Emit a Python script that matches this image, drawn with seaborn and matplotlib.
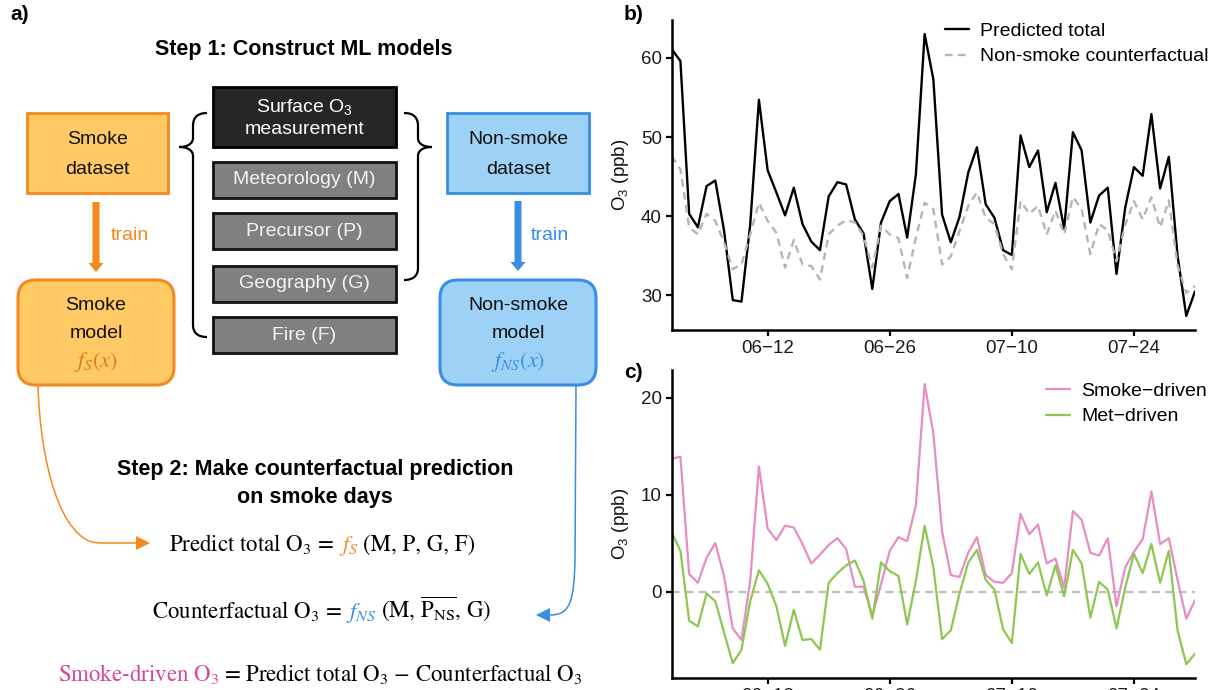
import numpy as np
import pandas as pd
import matplotlib
matplotlib.use("Agg")
import matplotlib.pyplot as plt
from matplotlib.patches import Rectangle, FancyBboxPatch, FancyArrow, Polygon, PathPatch
from matplotlib.path import Path
import seaborn as sns

# ---------------- data ----------------
start_date = "2023-06-01"
end_date = "2023-07-31"

predicted_total = [61.1, 59.6, 40.3, 38.6, 43.8, 44.5, 38.2, 29.4, 29.2, 38.9,
                   54.7, 45.8, 43.0, 40.1, 43.6, 39.0, 36.8, 35.7, 42.5, 44.3,
                   44.0, 39.6, 37.8, 30.8, 39.2, 41.9, 42.8, 37.3, 45.3, 63.0,
                   57.3, 40.2, 36.7, 39.9, 45.5, 48.7, 41.5, 39.8, 35.7, 35.1,
                   50.2, 46.2, 48.3, 40.5, 44.2, 38.4, 50.6, 48.3, 39.2, 42.6,
                   43.6, 32.7, 41.1, 46.2, 45.1, 52.9, 43.5, 47.5, 35.0, 27.4,
                   30.5]

counterfactual = [47.6, 45.9, 38.6, 37.7, 40.3, 39.4, 36.7, 33.3, 33.9, 37.7,
                  41.7, 39.4, 37.9, 33.5, 37.0, 33.9, 33.7, 32.0, 37.7, 38.8,
                  39.5, 39.2, 37.5, 33.5, 38.8, 37.7, 37.2, 32.2, 37.3, 41.7,
                  40.9, 33.9, 34.9, 38.1, 41.3, 43.0, 39.8, 39.0, 35.2, 33.3,
                  41.9, 40.3, 41.3, 37.7, 40.7, 37.7, 42.4, 40.9, 35.2, 39.0,
                  38.2, 34.3, 38.9, 41.9, 39.6, 42.4, 38.6, 42.0, 33.8, 30.3,
                  31.2]

smoke_driven = [13.7, 13.9, 1.8, 0.9, 3.5, 5.0, 1.6, -3.8, -5.0, 1.1,
                12.9, 6.5, 5.3, 6.8, 6.6, 4.9, 2.9, 3.8, 4.8, 5.5,
                4.4, 0.5, 0.5, -2.5, 0.75, 4.2, 5.6, 5.2, 8.9, 21.4,
                16.3, 6.2, 1.7, 1.5, 4.0, 5.6, 1.7, 1.0, 0.9, 1.9,
                8.0, 5.9, 6.9, 2.9, 3.4, 0.4, 8.3, 7.4, 4.0, 3.7,
                5.5, -1.5, 2.5, 4.1, 5.4, 10.3, 4.9, 5.5, 1.2, -2.8,
                -0.9]

met_driven = [6.1, 4.2, -3.0, -3.6, -0.2, -1.0, -4.2, -7.4, -6.0, -1.0,
              2.2, 0.8, -1.5, -5.6, -1.9, -5.0, -4.9, -6.0, 0.9, 1.9,
              2.7, 3.2, 1.1, -2.8, 3.0, 2.1, 1.6, -3.4, 1.1, 6.8,
              2.5, -4.9, -4.0, -0.2, 3.0, 4.3, 1.2, 0.2, -3.9, -5.3,
              3.9, 1.8, 3.0, -0.4, 2.7, -0.5, 4.3, 2.9, -2.7, 1.0,
              0.2, -3.8, 0.4, 3.9, 1.9, 4.9, 0.9, 4.2, -4.0, -7.5,
              -6.4]

tick_dates = ["2023-06-12", "2023-06-26", "2023-07-10", "2023-07-24"]
tick_labels = ["06\u221212", "06\u221226", "07\u221210", "07\u221224"]
yticks_b = [30, 40, 50, 60]
yticks_c = [0, 10, 20]

# ---------------- style ----------------
sns.set_theme(style="ticks")
plt.rcParams["font.family"] = ["Liberation Sans", "DejaVu Sans"]
plt.rcParams["mathtext.fontset"] = "custom"
plt.rcParams["mathtext.rm"] = "Liberation Sans"
plt.rcParams["mathtext.it"] = "Liberation Sans:italic"
plt.rcParams["mathtext.bf"] = "Liberation Sans:bold"
plt.rcParams["text.color"] = "black"
plt.rcParams["axes.labelcolor"] = "black"

W, H = 1217, 690
fig = plt.figure(figsize=(W / 100, H / 100), dpi=100)


def px_axes(left, top, right, bottom):
    return fig.add_axes([left / W, 1 - bottom / H, (right - left) / W, (bottom - top) / H])


# schematic canvas in pixel units (y downwards)
cv = fig.add_axes([0, 0, 1, 1])
cv.set_xlim(0, W)
cv.set_ylim(H, 0)
cv.axis("off")

ORANGE = "#F5891F"
ORANGE_FILL = "#FFC966"
BLUE = "#3A8DE2"
BLUE_FILL = "#9DD1F5"
PINK_TXT = "#D6479B"

# ---------- panel a ----------
cv.text(10, 15, "a)", fontsize=15, fontweight="bold", ha="left", va="center")
cv.text(304, 50, "Step 1: Construct ML models", fontsize=15.5, fontweight="bold",
        ha="center", va="center")


def lines(x, ys, texts, **kw):
    for y, t in zip(ys, texts):
        cv.text(x, y, t, ha="center", va="center", **kw)


# smoke side
cv.add_patch(Rectangle((27, 113), 141, 80, fc=ORANGE_FILL, ec=ORANGE, lw=2))
lines(97.5, [140, 169], ["Smoke", "dataset"], fontsize=14, color="#111111")
cv.add_patch(FancyArrow(96, 202, 0, 70, width=7, head_width=15, head_length=9,
                        length_includes_head=True, color=ORANGE, lw=0))
cv.text(111, 236, "train", color=ORANGE, fontsize=14, ha="left", va="center")
cv.add_patch(FancyBboxPatch((18, 280), 156, 105, boxstyle="round,pad=0,rounding_size=18",
                            fc=ORANGE_FILL, ec=ORANGE, lw=2.2))
lines(96, [305, 333], ["Smoke", "model"], fontsize=14, color="#111111")
cv.text(96, 362, "$f_S(x)$", color="#E07A12", fontsize=16, family="STIXGeneral",
        math_fontfamily="stix", ha="center", va="center")

# non-smoke side
cv.add_patch(Rectangle((447, 113), 142, 80, fc=BLUE_FILL, ec=BLUE, lw=2))
lines(518, [140, 169], ["Non-smoke", "dataset"], fontsize=14, color="#111111")
cv.add_patch(FancyArrow(518, 201, 0, 70, width=7, head_width=15, head_length=9,
                        length_includes_head=True, color=BLUE, lw=0))
cv.text(531, 236, "train", color=BLUE, fontsize=14, ha="left", va="center")
cv.add_patch(FancyBboxPatch((440, 280), 156, 105, boxstyle="round,pad=0,rounding_size=18",
                            fc=BLUE_FILL, ec=BLUE, lw=2.2))
lines(518, [305, 333], ["Non-smoke", "model"], fontsize=14, color="#111111")
cv.text(518, 362, "$f_{NS}(x)$", color=BLUE, fontsize=16, family="STIXGeneral",
        math_fontfamily="stix", ha="center", va="center")

# feature boxes
cv.add_patch(Rectangle((213, 87), 183, 60, fc="#262626", ec="black", lw=2))
lines(304.5, [107, 129.5], ["Surface O$_3$", "measurement"], fontsize=14, color="white")
feature_names = ["Meteorology (M)", "Precursor (P)", "Geography (G)", "Fire (F)"]
for top, name in zip([162, 213, 266, 317], feature_names):
    cv.add_patch(Rectangle((213, top), 183, 36, fc="#808080", ec="#111111", lw=2))
    cv.text(304.5, top + 18, name, fontsize=14, color="#F4F4F4", ha="center", va="center")

# braces
M, C, L = Path.MOVETO, Path.CURVE4, Path.LINETO
left_brace = Path(
    [(207, 113), (197, 113), (193, 118), (193, 126), (193, 138),
     (193, 144), (187, 147), (179, 147), (187, 147), (193, 150), (193, 156),
     (193, 325), (193, 332), (197, 337), (207, 337)],
    [M, C, C, C, L, C, C, C, C, C, C, L, C, C, C])
right_brace = Path(
    [(404, 113), (414, 113), (418, 118), (418, 126), (418, 138),
     (418, 144), (424, 147), (432, 147), (424, 147), (418, 150), (418, 156),
     (418, 268), (418, 275), (414, 280), (404, 280)],
    [M, C, C, C, L, C, C, C, C, C, C, L, C, C, C])
for p in (left_brace, right_brace):
    cv.add_patch(PathPatch(p, fill=False, ec="black", lw=1.6))

# connectors to step 2
cv.add_patch(PathPatch(Path([(38, 385), (40, 460), (60, 543), (100, 543), (138, 543)],
                            [M, C, C, C, L]), fill=False, ec=ORANGE, lw=1.1))
cv.add_patch(Polygon([(136, 536), (150, 543), (136, 550)], closed=True, fc=ORANGE, ec="none"))
cv.add_patch(PathPatch(Path([(576, 385), (575, 560), (574, 602), (570, 615), (550, 615)],
                            [M, L, C, C, C]), fill=False, ec=BLUE, lw=1.1))
cv.add_patch(Polygon([(550, 608), (536, 615), (550, 622)], closed=True, fc=BLUE, ec="none"))

cv.text(315, 470, "Step 2: Make counterfactual prediction", fontsize=15.5,
        fontweight="bold", ha="center", va="center")
cv.text(315, 497, "on smoke days", fontsize=15.5, fontweight="bold", ha="center", va="center")

renderer = fig.canvas.get_renderer()


def rich_line(x_left, baseline, pieces, size=16.5, gap=4.5):
    x = x_left
    for txt, color in pieces:
        t = cv.text(x, baseline, txt, color=color, fontsize=size, family="STIXGeneral",
                    math_fontfamily="stix", ha="left", va="baseline")
        x += t.get_window_extent(renderer).width + gap


rich_line(169, 551, [("Predict total O$_3$ =", "black"), ("$f_S$", ORANGE),
                     ("(M, P, G, F)", "black")])
rich_line(152, 618, [("Counterfactual O$_3$ =", "black"), ("$f_{NS}$", BLUE),
                     (r"(M, $\overline{\mathrm{P}_{\mathrm{NS}}}$, G)", "black")])
rich_line(58, 681, [("Smoke-driven O$_3$", PINK_TXT),
                    ("= Predict total O$_3$ \u2212 Counterfactual O$_3$", "black")])

# ---------- panels b and c ----------
dates = pd.date_range(start_date, end_date, freq="D")
ticks = pd.to_datetime(tick_dates)


def style_axis(ax, yticks, lo, hi):
    pad = 0.05 * (hi - lo)
    ax.set_ylim(lo - pad, hi + pad)
    ax.set_xlim(dates[0], dates[-1])
    ax.set_xticks(ticks)
    ax.set_xticklabels(tick_labels)
    ax.set_yticks(yticks)
    ax.set_xlabel("")
    ax.set_ylabel("O$_3$ (ppb)", fontsize=13.5, color="#111111")
    ax.yaxis.set_label_coords(-0.078, 0.5)
    sns.despine(ax=ax)
    for s in ("left", "bottom"):
        ax.spines[s].set_linewidth(1.8)
        ax.spines[s].set_color("black")
    ax.tick_params(length=4, width=1.6, color="black", labelsize=13.5,
                   labelcolor="#1a1a1a", pad=3)


legend_kw = dict(bbox_transform=fig.transFigure, frameon=False, fontsize=14,
                 handlelength=1.25, handletextpad=0.55, labelspacing=0.42,
                 borderpad=0, borderaxespad=0, loc="upper left")

ax_b = px_axes(671.7, 20, 1195, 330)
sns.lineplot(x=dates, y=predicted_total, ax=ax_b, color="black", lw=1.7,
             label="Predicted total")
sns.lineplot(x=dates, y=counterfactual, ax=ax_b, color="#B5B5B5", lw=1.7,
             linestyle=(0, (3.2, 2.3)), label="Non-smoke counterfactual")
vals_b = predicted_total + counterfactual
style_axis(ax_b, yticks_b, min(vals_b), max(vals_b))
ax_b.legend(bbox_to_anchor=(945 / W, 1 - 22 / H), **legend_kw)
cv.text(770.5, 32.7, "New York State", fontsize=14, fontweight="bold", ha="center", va="center")
cv.text(770.5, 55, "2023 Summer", fontsize=14, fontweight="bold", ha="center", va="center")
cv.text(624, 15, "b)", fontsize=15, fontweight="bold", ha="left", va="center")

ax_c = px_axes(671.7, 370, 1195, 678.3)
ax_c.axhline(0, color="#BEBEBE", lw=1.6, ls=(0, (3.5, 2.5)), zorder=1)
sns.lineplot(x=dates, y=smoke_driven, ax=ax_c, color="#E98CC4", lw=1.6,
             label="Smoke\u2212driven")
sns.lineplot(x=dates, y=met_driven, ax=ax_c, color="#8CC850", lw=1.6,
             label="Met\u2212driven")
vals_c = smoke_driven + met_driven
style_axis(ax_c, yticks_c, min(vals_c), max(vals_c))
ax_c.legend(bbox_to_anchor=(1046 / W, 1 - 382 / H), **legend_kw)
cv.text(624, 373, "c)", fontsize=15, fontweight="bold", ha="left", va="center")

fig.savefig("out.png", dpi=100)
